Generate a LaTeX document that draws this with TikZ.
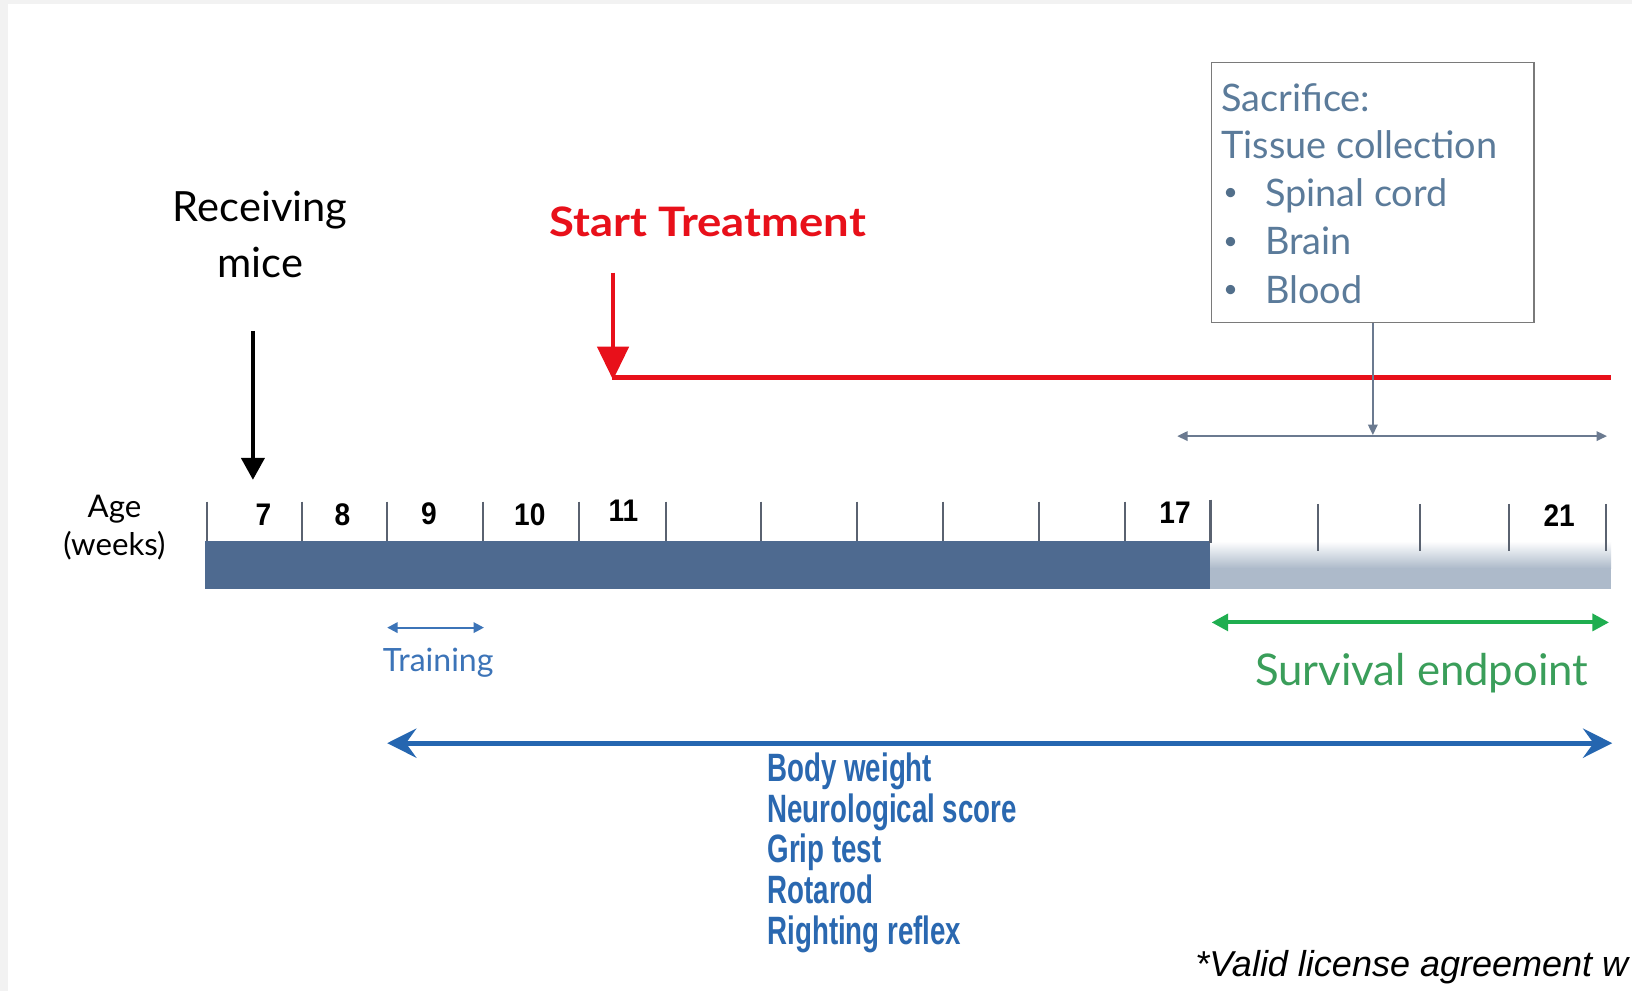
\documentclass[tikz,border=0pt]{standalone}
\usepackage{fontspec}
\setmainfont{Lato}
\newfontfamily\latowide{Lato}[FakeStretch=1.12]
\newfontfamily\condb{Liberation Sans}[FakeStretch=0.70]
\newfontfamily\digf{Liberation Sans}[FakeStretch=0.9]
\newfontfamily\arialf{Liberation Sans}
\usetikzlibrary{arrows.meta}
\definecolor{framegray}{HTML}{F2F2F2}
\definecolor{bardark}{HTML}{4E6A90}
\definecolor{barlight}{HTML}{ADBACA}
\definecolor{tickgray}{HTML}{5A6270}
\definecolor{boxtextc}{HTML}{5B7B9A}
\definecolor{boxline}{HTML}{7A7A7A}
\definecolor{connc}{HTML}{6B7A90}
\definecolor{redc}{HTML}{E8101A}
\definecolor{trainc}{HTML}{3C74B8}
\definecolor{greenc}{HTML}{1FAE50}
\definecolor{greentext}{HTML}{3A9E5A}
\definecolor{bluec}{HTML}{2566B0}
\definecolor{bluetext}{HTML}{2A68B0}
\tikzset{
  digit/.style={font=\digf\bfseries\fontsize{15}{15}\selectfont, inner sep=0pt, text=black},
  tickline/.style={draw=tickgray, line width=1pt},
  listitem/.style={font=\condb\bfseries\fontsize{19}{19}\selectfont, text=bluetext, inner sep=0pt, anchor=base west},
  boxitem/.style={font=\fontsize{18.2}{18.2}\selectfont, text=boxtextc, inner sep=0pt, anchor=base west},
  bulletitem/.style={font=\fontsize{12}{12}\selectfont, text=boxtextc!90!black, inner sep=0pt, anchor=base west},
}
\begin{document}
\begin{tikzpicture}[x=0.5pt,y=-0.5pt]
\clip (0,0) rectangle (1568,952);
\fill[framegray] (0,0) rectangle (1568,952);
\fill[white] (8,4) rectangle (1568,952);

% Receiving mice
\node[align=center, font=\fontsize{20}{27}\selectfont, inner sep=0pt] (recv) at (250,225) {Receiving\\mice};
\coordinate (ra) at (243,318);
\coordinate (rb) at (243,461);
\draw[line width=2pt, -{Triangle[width=11pt,length=10.5pt]}] (ra) -- (rb);

% Age
\node[align=center, font=\fontsize{15}{18.5}\selectfont, inner sep=0pt] (age) at (110,507) {Age\\(weeks)};

% bar
\fill[bardark] (197,520) rectangle (1163,566);
\shade[top color=white, bottom color=barlight] (1163,520) rectangle (1548,546);
\fill[barlight] (1163,545.5) rectangle (1548,566);

% ticks
\foreach \x in {199,290,372,464,556,640,731,823,906,998,1081}
  \draw[tickline] (\x,482) -- (\x,520);
\draw[tickline] (1163,480) -- (1163,522);
\foreach \x in {1266,1364,1450,1543}
  \draw[tickline] (\x,484) -- (\x,529);

\node[digit] (d7) at (253,495) {7};
\node[digit] (d8) at (329,495) {8};
\node[digit] (d9) at (412,494) {9};
\node[digit] (d10) at (509,495) {10};
\node[digit] (d11) at (599,491) {11};
\node[digit] (d17) at (1129,493) {17};
\node[digit] (d21) at (1498,495) {21};

% Start treatment
\node[font=\latowide\bfseries\fontsize{19.5}{19.5}\selectfont, text=redc, inner sep=0pt] (st) at (680,213) {Start Treatment};
\coordinate (sa) at (589,262);
\coordinate (sb) at (589,365);
\coordinate (sc) at (588,363);
\coordinate (se) at (1548,363);
\draw[redc, line width=2.5pt] (sc) -- (se);
\draw[redc, line width=2pt, -{Triangle[width=15pt,length=16pt]}] (sa) -- (sb);

% Sacrifice box
\node[draw=boxline, line width=0.8pt, minimum width=155pt, minimum height=125pt, inner sep=0pt] (sac) at (1319,185) {};
\node[boxitem] (s1) at (1173,107.5) {Sacrifice:};
\node[boxitem] (s2) at (1173,152) {Tissue collection};
\node[bulletitem] (b1) at (1175,193) {•};
\node[boxitem] (s3) at (1215,198.6) {Spinal cord};
\node[bulletitem] (b2) at (1175,239.5) {•};
\node[boxitem] (s4) at (1215,245) {Brain};
\node[bulletitem] (b3) at (1175,286) {•};
\node[boxitem] (s5) at (1215,291.5) {Blood};
\coordinate (sacdown) at (1319,418);
\draw[connc, line width=1pt, -{Triangle[width=4.5pt,length=5pt]}] (sac.south) -- (sacdown);
\coordinate (cl) at (1131,419);
\coordinate (cr) at (1544,419);
\draw[connc, line width=1pt, {Triangle[width=4.5pt,length=5pt]}-{Triangle[width=4.5pt,length=5pt]}] (cl) -- (cr);

% Training
\coordinate (tl) at (372,603);
\coordinate (tr) at (465,603);
\draw[trainc, line width=1pt, {Triangle[width=5pt,length=5pt]}-{Triangle[width=5pt,length=5pt]}] (tl) -- (tr);
\node[font=\fontsize{15.4}{15.4}\selectfont, text=trainc, inner sep=0pt] (train) at (421,637) {Training};

% Survival
\coordinate (gl) at (1164,598);
\coordinate (gr) at (1546,598);
\draw[greenc, line width=2pt, {Triangle[width=8pt,length=8pt]}-{Triangle[width=8pt,length=8pt]}] (gl) -- (gr);
\node[font=\fontsize{21}{21}\selectfont, text=greentext, inner sep=0pt] (surv) at (1366,647) {Survival endpoint};

% Big blue arrow
\coordinate (bl) at (372,714);
\coordinate (br) at (1549,714);
\draw[bluec, line width=2.5pt, {Stealth[width=14pt,length=14pt,inset=5pt]}-{Stealth[width=14pt,length=14pt,inset=5pt]}] (bl) -- (br);

\node[listitem] (l1) at (737,751) {Body weight};
\node[listitem] (l2) at (737,790) {Neurological score};
\node[listitem] (l3) at (737,829) {Grip test};
\node[listitem] (l4) at (737,868) {Rotarod};
\node[listitem] (l5) at (737,907) {Righting reflex};

% footnote
\node[font=\arialf\itshape\fontsize{17.3}{17.3}\selectfont, inner sep=0pt, anchor=base west] (foot) at (1148,938) {*Valid license agreement w};
\end{tikzpicture}
\end{document}
